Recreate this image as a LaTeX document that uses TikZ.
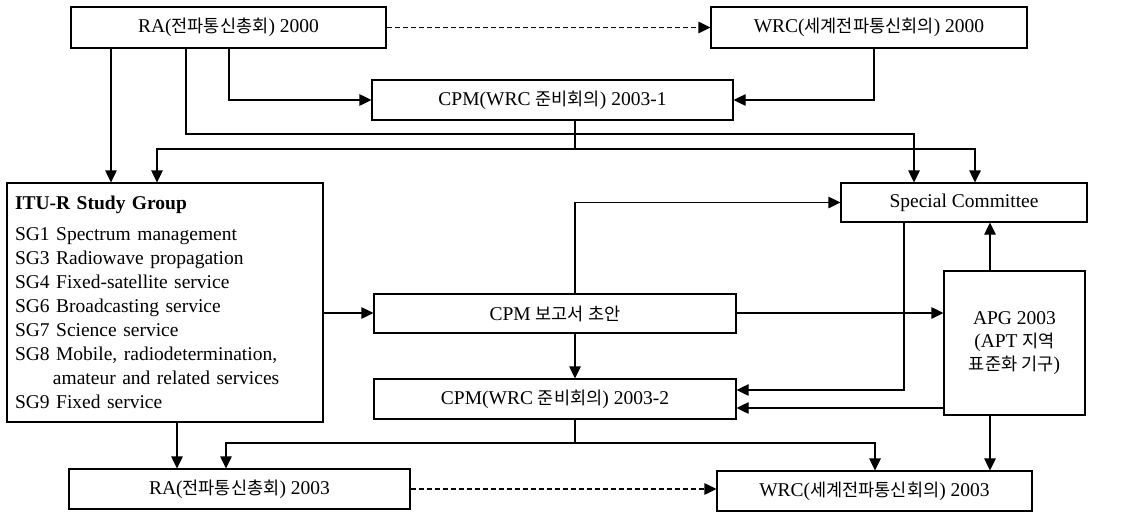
\documentclass[tikz,border=0pt]{standalone}
\usepackage{fontspec}
\setmainfont{Liberation Serif}
\newfontfamily\kr{Noto Sans CJK KR}[Scale=0.9]
\usetikzlibrary{arrows.meta}
\begin{document}
\begin{tikzpicture}[x=1pt,y=-1pt,
  box/.style={draw, line width=1.2pt, inner sep=0pt, font=\fontsize{19.5}{24}\selectfont, align=center},
  conn/.style={line width=1.2pt, -{Triangle[length=12pt,width=11.5pt]}},
  dconn/.style={conn, dash pattern=on 5pt off 3pt}]
\useasboundingbox (0,0) rectangle (1135,514);
% boxes
\node[box, minimum width=315pt, minimum height=41pt] (ra0) at (228.5,27.5) {RA({\kr 전파통신총회}) 2000};
\node[box, minimum width=316pt, minimum height=41pt] (wrc0) at (869,27.5) {WRC({\kr 세계전파통신회의}) 2000};
\node[box, minimum width=361pt, minimum height=40pt] (cpm1) at (552.5,100) {CPM(WRC {\kr 준비회의}) 2003-1};
\node[box, minimum width=316pt, minimum height=239pt, text width=300pt, align=left] (itu) at (165,302.5)
  {\textbf{ITU-R Study Group}\\[7pt]
   SG1 Spectrum management\\
   SG3 Radiowave propagation\\
   SG4 Fixed-satellite service\\
   SG6 Broadcasting service\\
   SG7 Science service\\
   SG8 Mobile, radiodetermination,\\
   \hspace*{38pt}amateur and related services\\
   SG9 Fixed service};
\node[box, minimum width=246pt, minimum height=39pt] (sc) at (964,202.5) {Special Committee};
\node[box, minimum width=362pt, minimum height=39pt] (draft) at (555,313.5) {CPM {\kr 보고서 초안}};
\node[box, minimum width=141pt, minimum height=144pt, font=\fontsize{19.5}{23}\selectfont] (apg) at (1014.5,343) {APG 2003\\(APT {\kr 지역}\\{\kr 표준화 기구})};
\node[box, minimum width=362pt, minimum height=40pt] (cpm2) at (555,399) {CPM(WRC {\kr 준비회의}) 2003-2};
\node[box, minimum width=341pt, minimum height=40pt] (ra3) at (239.5,489) {RA({\kr 전파통신총회}) 2003};
\node[box, minimum width=315pt, minimum height=40pt] (wrc3) at (874.5,491) {WRC({\kr 세계전파통신회의}) 2003};
% helper coordinates
\coordinate (x229) at (229,0);
\coordinate (x874) at (874,0);
\coordinate (x111) at (111,0);
\coordinate (x186) at (186,0);
\coordinate (y134) at (0,134);
\coordinate (x914) at (914,0);
\coordinate (x575) at (575,0);
\coordinate (y149) at (0,149);
\coordinate (x157) at (157,0);
\coordinate (x975) at (975,0);
\coordinate (x990) at (990,0);
\coordinate (x904) at (904,0);
\coordinate (y390) at (0,390);
\coordinate (y408) at (0,408);
\coordinate (x177) at (177,0);
\coordinate (y443) at (0,443);
\coordinate (x226) at (226,0);
\coordinate (x875) at (875,0);
\coordinate (y313) at (0,313);
% connectors
\draw[dconn] (ra0.east) -- (wrc0.west);
\draw[conn] (ra0.south -| x229) |- (cpm1.west);
\draw[conn] (wrc0.south -| x874) |- (cpm1.east);
\draw[conn] (ra0.south -| x111) -- (itu.north -| x111);
\draw[conn] (ra0.south -| x186) -- (x186 |- y134) -- (x914 |- y134) -- (sc.north -| x914);
\draw[conn] (cpm1.south -| x575) -- (x575 |- y149) -- (x157 |- y149) -- (itu.north -| x157);
\draw[conn] (x575 |- y149) -- (x975 |- y149) -- (sc.north -| x975);
\draw[conn] (itu.east |- y313) -- (draft.west |- y313);
\draw[conn] (draft.north -| x575) |- (sc.west);
\draw[conn] (draft.east |- y313) -- (apg.west |- y313);
\draw[conn] (apg.north -| x990) -- (sc.south -| x990);
\draw[conn] (sc.south -| x904) -- (x904 |- y390) -- (cpm2.east |- y390);
\draw[conn] (apg.west |- y408) -- (cpm2.east |- y408);
\draw[conn] (draft.south -| x575) -- (cpm2.north -| x575);
\draw[conn] (itu.south -| x177) -- (ra3.north -| x177);
\draw[conn] (cpm2.south -| x575) -- (x575 |- y443) -- (x226 |- y443) -- (ra3.north -| x226);
\draw[conn] (x575 |- y443) -- (x875 |- y443) -- (wrc3.north -| x875);
\draw[conn] (apg.south -| x990) -- (wrc3.north -| x990);
\draw[dconn] (ra3.east) -- (ra3.east -| wrc3.west);
\end{tikzpicture}
\end{document}
